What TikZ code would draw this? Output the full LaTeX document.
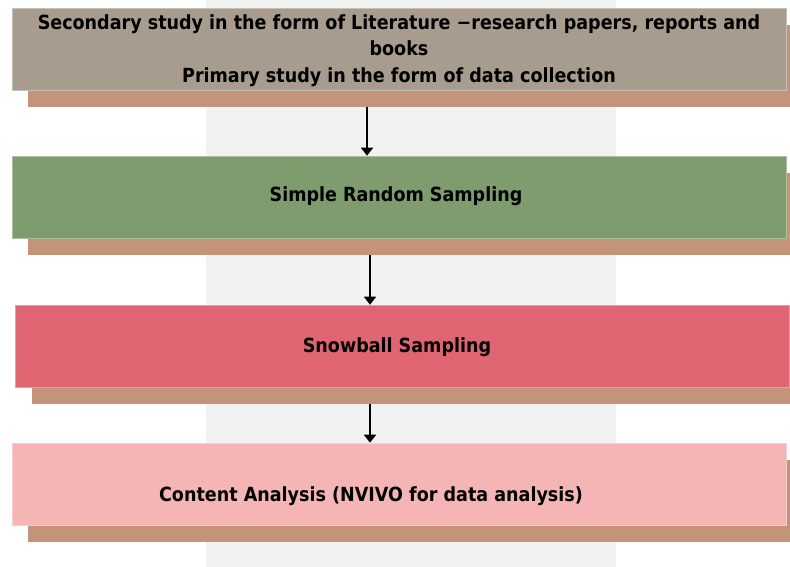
\documentclass[tikz,border=0pt]{standalone}
\usepackage{fontspec}
\newfontfamily\boxfont{DejaVuSansCondensed-Bold.ttf}
\usetikzlibrary{arrows.meta}

\definecolor{stripgray}{HTML}{F2F2F2}
\definecolor{shadowtan}{HTML}{C3937A}
\definecolor{litgray}{HTML}{A89C8F}
\definecolor{srsgreen}{HTML}{7E9C6E}
\definecolor{snowred}{HTML}{DE6571}
\definecolor{nvivopink}{HTML}{F5B5B5}

\begin{document}
\begin{tikzpicture}[x=1pt, y=-1pt,
  stage/.style={minimum width=774pt, minimum height=82pt, inner sep=0pt,
    fill=#1, draw=white!35!#1, line width=0.6pt},
  under/.style={minimum width=774pt, minimum height=82pt, inner sep=0pt, fill=shadowtan},
  flow/.style={line width=1.7pt, -{Triangle[length=8pt, width=12pt]}},
  txt/.style={inner sep=0pt, font=\boxfont\fontsize{19.5}{26.5}\selectfont}]
\useasboundingbox (0, 0) rectangle (790, 567);
\fill[stripgray] (206, 0) rectangle (616, 567);

% shadows under the stages
\node[under] (s1) at (415, 66) {};
\node[under] (s2) at (415, 214) {};
\node[under] (s3) at (419, 363) {};
\node[under] (s4) at (415, 501) {};

% stages
\node[stage=litgray] (b1) at (399, 49) {};
\node[stage=srsgreen] (b2) at (399, 197) {};
\node[stage=snowred] (b3) at (402, 346) {};
\node[stage=nvivopink] (b4) at (399, 484) {};

\node[txt, align=center] (t1) at (399, 50.5)
  {Secondary study in the form of Literature −research papers, reports and\\
   books\\ Primary study in the form of data collection};
\node[txt, anchor=base] (t2) at (396, 201) {Simple Random Sampling};
\node[txt, anchor=base] (t3) at (397, 352) {Snowball Sampling};
\node[txt, anchor=base] (t4) at (371, 501) {Content Analysis (NVIVO for data analysis)};

% arrows
\draw[flow] ([xshift=-48pt]s1.south) -- ([xshift=-48pt]s1.south |- b2.north);
\draw[flow] ([xshift=-45pt]s2.south) -- ([xshift=-45pt]s2.south |- b3.north);
\draw[flow] ([xshift=-49pt]s3.south) -- ([xshift=-49pt]s3.south |- b4.north);

\end{tikzpicture}
\end{document}
